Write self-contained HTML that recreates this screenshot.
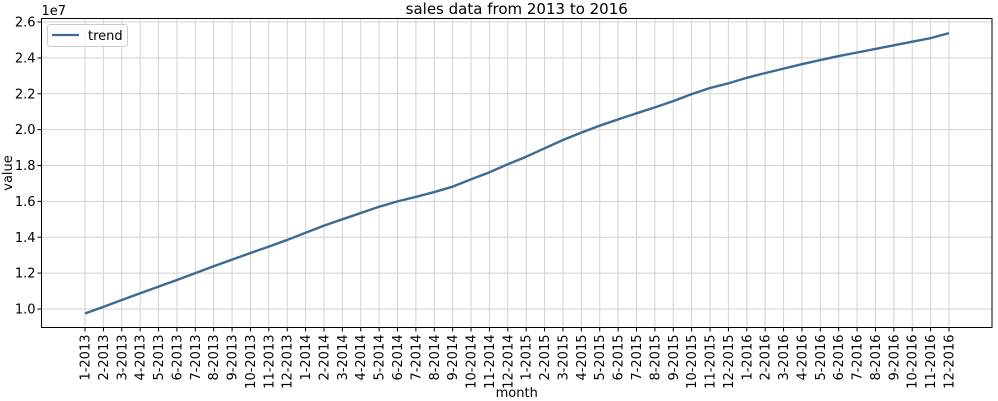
<!DOCTYPE html>
<html><head><meta charset="utf-8"><style>
html,body{margin:0;padding:0;background:#fff;}
svg{display:block;font-family:"DejaVu Sans","Liberation Sans",sans-serif;}
</style></head><body>
<svg id="chart" width="998" height="401"></svg>
<script>
const months = [];
for (let y = 2013; y <= 2016; y++) for (let m = 1; m <= 12; m++) months.push(m + '-' + y);
const trendValues = [9.75,10.12,10.5,10.88,11.25,11.62,12.0,12.38,12.75,13.12,13.48,13.85,
 14.25,14.65,15.0,15.35,15.7,16.0,16.25,16.52,16.82,17.23,17.62,18.07,
 18.49,18.96,19.42,19.83,20.22,20.57,20.91,21.24,21.59,21.98,22.32,22.58,
 22.89,23.15,23.4,23.65,23.88,24.1,24.3,24.5,24.7,24.9,25.1,25.38];
const yTicks = [1.0,1.2,1.4,1.6,1.8,2.0,2.2,2.4,2.6];

const NS='http://www.w3.org/2000/svg';
const svg=document.getElementById('chart');
const L=41.5,R=992,T=18.5,B=327.5;
const x0=85,x1=949;
function xs(i){return x0+(x1-x0)*i/(months.length-1);}
function ys(v){return 309-(v-1.0)/1.6*287;}
function el(t,a,p){const e=document.createElementNS(NS,t);for(const k in a)e.setAttribute(k,a[k]);(p||svg).appendChild(e);return e;}

const grid=el('g',{});


months.forEach((m,i)=>{el('line',{x1:xs(i),x2:xs(i),y1:T,y2:B,stroke:'#d3d3d3','stroke-width':1},grid);});
yTicks.forEach(v=>{el('line',{x1:L,x2:R,y1:ys(v),y2:ys(v),stroke:'#d3d3d3','stroke-width':1},grid);});

const xt=el('g',{});


months.forEach((m,i)=>{
  const x=xs(i);
  el('line',{x1:x,x2:x,y1:B,y2:B+4,stroke:'#000'},xt);
  const t=el('text',{x:0,y:0,'font-size':13,'text-anchor':'end',transform:`translate(${x+4.5},${B+7}) rotate(-90)`},xt);
  t.textContent=m;
  
  
});
const yt=el('g',{});


yTicks.forEach(v=>{
  const y=ys(v);
  el('line',{x1:L-4,x2:L,y1:y,y2:y,stroke:'#000'},yt);
  const t=el('text',{x:L-6,y:y+4.5,'font-size':13,'text-anchor':'end'},yt);
  t.textContent=v.toFixed(1);
  
  
});

const line=el('polyline',{points:trendValues.map((v,i)=>xs(i)+','+ys(v/10)).join(' '),fill:'none',stroke:'#3d6a92','stroke-width':2.4,'stroke-linejoin':'round'});



const frame=el('rect',{x:L,y:T,width:R-L,height:B-T,fill:'none',stroke:'#000','stroke-width':1});



const ttl=el('text',{x:(L+R)/2,y:14,'font-size':15,'text-anchor':'middle'});
ttl.textContent='sales data from 2013 to 2016';


const ex=el('text',{x:L,y:15,'font-size':13});
ex.textContent='1e7';


const xl=el('text',{x:(L+R)/2,y:397,'font-size':13,'text-anchor':'middle'});
xl.textContent='month';


const yl=el('text',{x:0,y:0,'font-size':13,'text-anchor':'middle',transform:'translate(12,173) rotate(-90)'});
yl.textContent='value';



const lg=el('g',{});


el('rect',{x:47.5,y:24.5,width:80,height:22,rx:3,fill:'#fff','fill-opacity':0.8,stroke:'#ccc'},lg);
el('line',{x1:52,x2:79,y1:35,y2:35,stroke:'#3d6a92','stroke-width':2.2},lg);
const lt=el('text',{x:88,y:40,'font-size':13},lg);
lt.textContent='trend';


</script>
</body></html>
